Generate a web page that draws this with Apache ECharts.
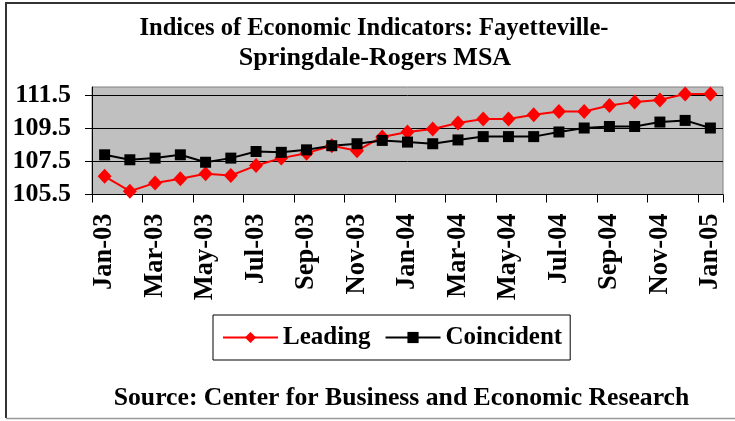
<!DOCTYPE html>
<html>
<head>
<meta charset="utf-8">
<script src="https://cdn.jsdelivr.net/npm/echarts@6/dist/echarts.min.js"></script>
<style>
html,body{margin:0;padding:0;background:#fff;}
#chart{width:735px;height:421px;}
</style>
</head>
<body>
<div id="chart"></div>
<script>
var categories = ['Jan-03','Feb-03','Mar-03','Apr-03','May-03','Jun-03','Jul-03','Aug-03','Sep-03','Oct-03','Nov-03','Dec-03',
  'Jan-04','Feb-04','Mar-04','Apr-04','May-04','Jun-04','Jul-04','Aug-04','Sep-04','Oct-04','Nov-04','Dec-04','Jan-05'];
var leading = [106.6, 105.7, 106.2, 106.45, 106.75, 106.65, 107.25, 107.7, 108.0, 108.45, 108.15, 108.98,
  109.28, 109.46, 109.82, 110.06, 110.06, 110.32, 110.52, 110.52, 110.88, 111.1, 111.22, 111.58, 111.58];
var coincident = [107.9, 107.6, 107.7, 107.9, 107.45, 107.7, 108.1, 108.05, 108.2, 108.45, 108.57, 108.77,
  108.67, 108.57, 108.8, 109.0, 109.0, 109.0, 109.28, 109.52, 109.61, 109.61, 109.88, 109.98, 109.52];
var yTicks = [105.5, 107.5, 109.5, 111.5];
var titleLines = ['Indices of Economic Indicators: Fayetteville-', 'Springdale-Rogers MSA'];
var sourceText = 'Source: Center for Business and Economic Research';

var FONT = '"Liberation Serif", "Times New Roman", serif';
var chart = echarts.init(document.getElementById('chart'), null, {renderer:'canvas'});
chart.setOption({
  animation: false,
  backgroundColor: '#fff',
  graphic: [
    {type:'line', shape:{x1:6, y1:3, x2:6, y2:418}, style:{stroke:'#333', lineWidth:2}},
    {type:'line', shape:{x1:5, y1:3, x2:735, y2:3}, style:{stroke:'#333', lineWidth:2}},
    {type:'line', shape:{x1:6, y1:418.5, x2:735, y2:418.5}, style:{stroke:'#999', lineWidth:1.5}},
    {type:'text', x:374, y:28.5, scaleX:0.944, style:{text:titleLines[0], textAlign:'center', textVerticalAlign:'middle', font:'bold 26px ' + FONT, fill:'#000'}},
    {type:'text', x:375, y:58, style:{text:titleLines[1], textAlign:'center', textVerticalAlign:'middle', font:'bold 26px ' + FONT, fill:'#000'}},
    {type:'text', x:401.5, y:398, style:{text:sourceText, textAlign:'center', textVerticalAlign:'middle', font:'bold 25.7px ' + FONT, fill:'#000'}}
  ],
  grid: {left:92, top:87, right:12, bottom:226.5, show:true, backgroundColor:'#C0C0C0', borderColor:'#808080', borderWidth:1, containLabel:false},
  legend: {
    left:213, top:315, orient:'horizontal',
    padding:[10, 8, 10, 9], itemGap:14, itemWidth:55, itemHeight:14,
    borderColor:'#000', borderWidth:1,
    textStyle:{fontFamily:FONT, fontWeight:'bold', fontSize:25, color:'#000'},
    data:['Leading','Coincident']
  },
  xAxis: {
    type:'category', data:categories, boundaryGap:true,
    axisLine:{lineStyle:{color:'#000', width:1}},
    axisTick:{show:true, interval:1, length:8, inside:false, lineStyle:{color:'#000'}},
    axisLabel:{interval:1, rotate:90, margin:19, fontFamily:FONT, fontWeight:'bold', fontSize:26.5, color:'#000'},
    splitLine:{show:false}
  },
  yAxis: {
    type:'value', min:105.5, max:112, interval:2,
    axisLine:{show:true, lineStyle:{color:'#000', width:1}},
    axisTick:{show:true, length:7, customValues:yTicks, lineStyle:{color:'#000'}},
    axisLabel:{margin:21, customValues:yTicks, fontFamily:FONT, fontWeight:'bold', fontSize:26, color:'#000',
      formatter:function(v){return v.toFixed(1);}},
    splitLine:{show:true, lineStyle:{color:'#000', width:1}}
  },
  series: [
    {name:'Leading', type:'line', data:leading, symbol:'diamond', symbolSize:[14,15],
      lineStyle:{color:'#FF0000', width:2}, itemStyle:{color:'#FF0000'}, showAllSymbol:true},
    {name:'Coincident', type:'line', data:coincident, symbol:'rect', symbolSize:11,
      lineStyle:{color:'#000', width:2}, itemStyle:{color:'#000'}, showAllSymbol:true}
  ]
});
</script>
</body>
</html>
